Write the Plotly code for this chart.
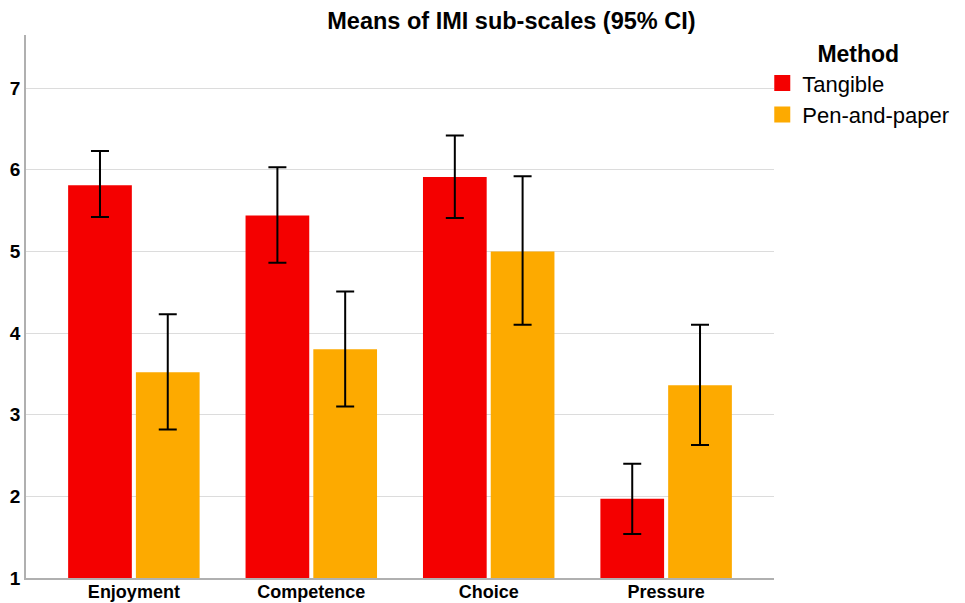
import plotly.graph_objects as go

categories = ["Enjoyment", "Competence", "Choice", "Pressure"]
tangible_mean = [5.81, 5.44, 5.91, 1.97]
tangible_upper = [6.23, 6.03, 6.42, 2.40]
tangible_lower = [5.42, 4.86, 5.41, 1.54]
paper_mean = [3.52, 3.80, 5.00, 3.36]
paper_upper = [4.23, 4.51, 5.92, 4.10]
paper_lower = [2.82, 3.10, 4.10, 2.63]
series_names = ["Tangible", "Pen-and-paper"]
series_colors = ["#f40000", "#fdaa00"]

FONT = "Liberation Sans, Arial, sans-serif"


def err(mean, upper, lower):
    return dict(
        type="data", symmetric=False,
        array=[u - m for u, m in zip(upper, mean)],
        arrayminus=[m - l for m, l in zip(mean, lower)],
        color="black", thickness=2, width=9,
    )


fig = go.Figure()
for name, color, mean, up, lo in [
    (series_names[0], series_colors[0], tangible_mean, tangible_upper, tangible_lower),
    (series_names[1], series_colors[1], paper_mean, paper_upper, paper_lower),
]:
    fig.add_trace(go.Bar(x=categories, y=mean, name=name, showlegend=False,
                         legendgroup=name,
                         marker=dict(color=color, line=dict(width=0)),
                         error_y=err(mean, up, lo)))
# legend entries with larger square swatches
for name, color in zip(series_names, series_colors):
    fig.add_trace(go.Scatter(x=[None], y=[None], mode="markers", name=name,
                             legendgroup=name,
                             marker=dict(symbol="square", size=16, color=color)))

fig.update_layout(
    width=965, height=603,
    margin=dict(l=26, r=190, t=35, b=25),
    paper_bgcolor="white", plot_bgcolor="white",
    barmode="group", bargap=0.236, bargroupgap=0.06,
    font=dict(family=FONT, color="black"),
    title=dict(text="<b>Means of IMI sub-scales (95% CI)</b>", x=0.53, xanchor="center",
               xref="container", yref="container",
               y=1 - 21 / 603, yanchor="middle", font=dict(size=23.5, family=FONT)),
    showlegend=True,
    legend=dict(x=0.983, xanchor="left", y=1.005, yanchor="top",
                title=dict(text="<b>Method</b>", side="top center", font=dict(size=23)),
                font=dict(size=22), itemwidth=30, tracegroupgap=0,
                bgcolor="rgba(0,0,0,0)"),
    xaxis=dict(range=[-0.608, 3.608], showgrid=False, showline=True, linecolor="#b0b0b0",
               linewidth=1.5, ticks="", automargin=False, ticklabelstandoff=-3,
               tickfont=dict(size=18, family=FONT),
               tickprefix="<b>", ticksuffix="</b>"),
    yaxis=dict(range=[1, 7.65], dtick=1, tick0=1, showgrid=True, gridcolor="#dcdcdc",
               gridwidth=1, showline=True, linecolor="#b0b0b0", linewidth=1.5,
               ticks="", zeroline=False, automargin=False,
               tickfont=dict(size=19, family=FONT),
               tickprefix="<b>", ticksuffix="</b>"),
)

fig.write_html("out.html", config={"displayModeBar": False},
               post_script="document.body.style.margin='0px';")
